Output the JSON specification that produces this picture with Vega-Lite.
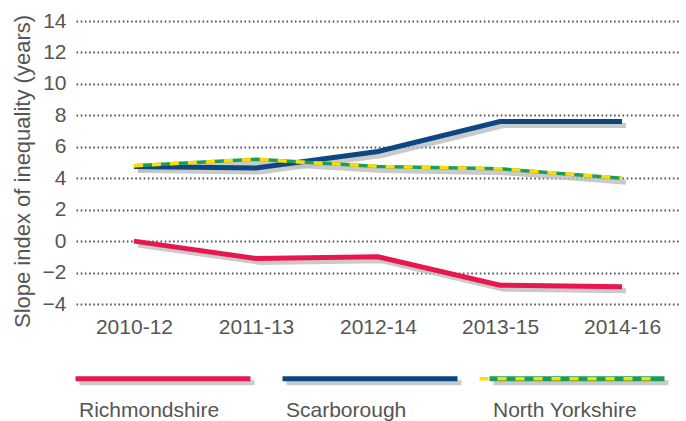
{
  "$schema": "https://vega.github.io/schema/vega-lite/v6.json",
  "width": 604,
  "height": 283,
  "autosize": {"type": "none"},
  "padding": {"left": 76, "top": 21, "right": 6, "bottom": 117},
  "background": "white",
  "config": {
    "view": {"stroke": null},
    "font": "Liberation Sans",
    "axis": {"labelColor": "#555555", "titleColor": "#555555", "labelFontSize": 21, "titleFontSize": 22, "titleFontWeight": "normal"},
    "legend": {"labelColor": "#555555", "labelFontSize": 21}
  },
  "data": {
    "values": [
      {"period": "2010-12", "series": "Richmondshire", "value": 0.0},
      {"period": "2011-13", "series": "Richmondshire", "value": -1.1},
      {"period": "2012-14", "series": "Richmondshire", "value": -1.0},
      {"period": "2013-15", "series": "Richmondshire", "value": -2.8},
      {"period": "2014-16", "series": "Richmondshire", "value": -2.9},
      {"period": "2010-12", "series": "Scarborough", "value": 4.75},
      {"period": "2011-13", "series": "Scarborough", "value": 4.65},
      {"period": "2012-14", "series": "Scarborough", "value": 5.7},
      {"period": "2013-15", "series": "Scarborough", "value": 7.6},
      {"period": "2014-16", "series": "Scarborough", "value": 7.6},
      {"period": "2010-12", "series": "North Yorkshire", "value": 4.8},
      {"period": "2011-13", "series": "North Yorkshire", "value": 5.2},
      {"period": "2012-14", "series": "North Yorkshire", "value": 4.75},
      {"period": "2013-15", "series": "North Yorkshire", "value": 4.6},
      {"period": "2014-16", "series": "North Yorkshire", "value": 4.0}
    ]
  },
  "encoding": {
    "x": {
      "field": "period", "type": "ordinal",
      "scale": {"type": "point", "padding": 0.475},
      "axis": {"title": null, "domain": false, "ticks": false, "labelAngle": 0, "labelPadding": 12, "grid": false}
    },
    "y": {
      "field": "value", "type": "quantitative",
      "scale": {"domain": [-4, 14], "nice": false, "zero": false},
      "axis": {
        "title": "Slope index of inequality (years)",
        "values": [-4, -2, 0, 2, 4, 6, 8, 10, 12, 14],
        "domain": false, "ticks": false, "labelPadding": 10,
        "grid": true, "gridColor": "#555555", "gridDash": [1.6, 2.6], "gridWidth": 1.8,
        "titlePadding": 8, "titleY": 150
      }
    }
  },
  "layer": [
    {
      "mark": {"type": "line", "strokeWidth": 5, "xOffset": 4, "yOffset": 4, "opacity": 0.8, "strokeCap": "butt"},
      "encoding": {
        "color": {
          "field": "series", "type": "nominal",
          "scale": {"domain": ["Richmondshire", "Scarborough", "North Yorkshire"], "range": ["#bdbdbd", "#bdbdbd", "#bdbdbd"]},
          "legend": {
            "title": null, "orient": "none", "legendX": -5, "legendY": 383, "direction": "horizontal",
            "symbolType": "M -1 -16 L 86.5 -16", "symbolSize": 16, "symbolStrokeWidth": 5,
            "labelOffset": -9, "gridAlign": "all", "columnPadding": 11, "labelExpr": "''"
          }
        }
      }
    },
    {
      "mark": {"type": "line", "strokeCap": "butt"},
      "encoding": {
        "color": {
          "field": "series", "type": "nominal",
          "scale": {"domain": ["Richmondshire", "Scarborough", "North Yorkshire"], "range": ["#e8174f", "#0b4781", "#1a9e5a"]},
          "legend": {
            "title": null, "orient": "none", "legendX": -9, "legendY": 379, "direction": "horizontal",
            "symbolType": "M -1 -16 L 86.5 -16", "symbolSize": 16, "symbolStrokeWidth": 5,
            "labelOffset": -9, "gridAlign": "all", "columnPadding": 11
          }
        },
        "strokeWidth": {"condition": {"test": "datum.series === 'North Yorkshire'", "value": 3.5}, "value": 5}
      }
    },
    {
      "mark": {"type": "line", "strokeWidth": 3.5, "strokeDash": [9, 9], "strokeCap": "butt"},
      "encoding": {
        "color": {
          "field": "series", "type": "nominal",
          "scale": {"domain": ["Richmondshire", "Scarborough", "North Yorkshire"], "range": ["transparent", "transparent", "#ffdd00"]},
          "legend": {
            "title": null, "orient": "none", "legendX": -9, "legendY": 379, "direction": "horizontal",
            "symbolType": "M -1 -16 L 86.5 -16", "symbolSize": 16, "symbolStrokeWidth": 3.5, "symbolDash": [9, 9],
            "labelOffset": -9, "gridAlign": "all", "columnPadding": 11, "labelExpr": "''"
          }
        }
      }
    }
  ],
  "resolve": {"scale": {"color": "independent"}, "legend": {"color": "independent"}}
}
